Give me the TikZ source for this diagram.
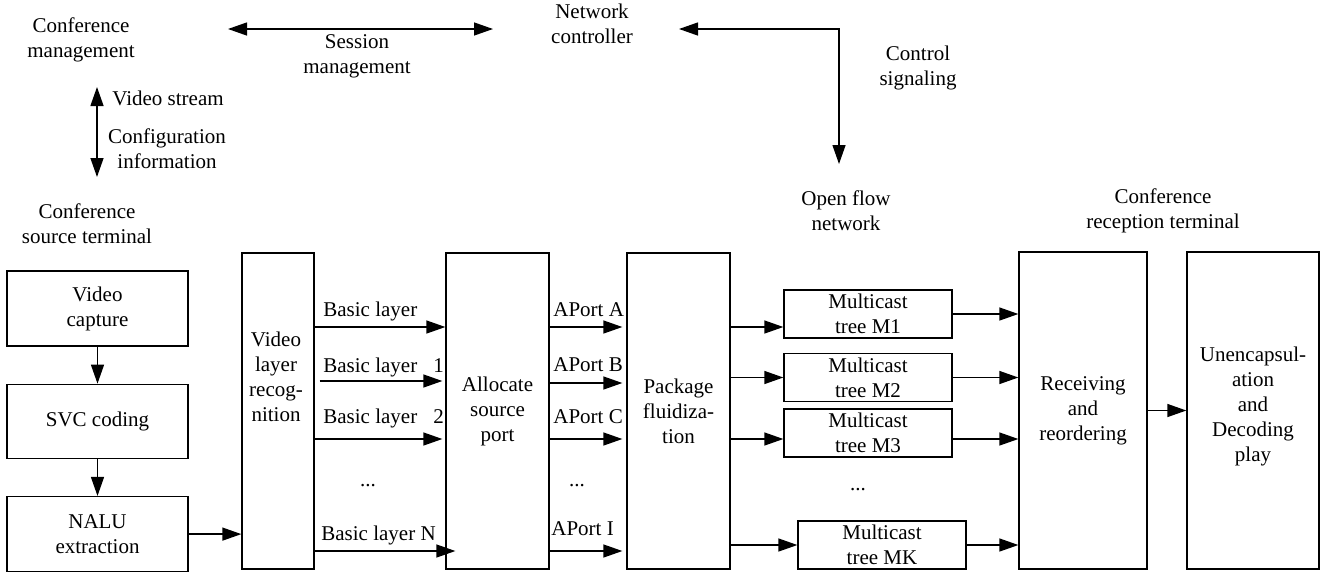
\documentclass[tikz,border=0pt]{standalone}
\usepackage{fontspec}
\setmainfont{Liberation Serif}
\usetikzlibrary{arrows.meta,positioning}

\begin{document}
\begin{tikzpicture}[x=0.5pt,y=-0.5pt,
  font=\fontsize{10.5}{12.5}\selectfont,
  box/.style = {draw, line width=0.65pt, inner sep=0pt, align=center},
  txt/.style = {inner sep=0pt, align=center},
  arr/.style = {line width=0.65pt, -{Triangle[length=9.5pt,width=6.5pt]}},
  biarr/.style = {line width=0.65pt, {Triangle[length=9.5pt,width=6.5pt]}-{Triangle[length=9.5pt,width=6.5pt]}}]
\useasboundingbox (0,0) rectangle (1327,574);

% labels on top
\node[txt] (cm) at (81,40) {Conference\\management};
\node[txt] (sm) at (357,56) {Session\\management};
\node[txt] (nc) at (592,24) {Network\\controller};
\node[txt] (cs) at (918,68) {Control\\signaling};
\node[txt] (ofn) at (846,211) {Open flow\\network};
\node[txt] (cst) at (87,224) {Conference\\source terminal};
\node[txt] (crt) at (1163,211) {Conference\\reception terminal};
\node[txt, anchor=base west] (vs) at (112,105) {Video stream};
\node[txt] (ci) at (167,149) {Configuration\\information};

\coordinate (s1) at (228,29);
\coordinate (s2) at (493,29);
\coordinate (c1) at (679,29);
\coordinate (c2) at (839,164);
\coordinate (v1) at (97,87);
\coordinate (v2) at (97,177);
\draw[biarr] (s1) -- (s2);
\draw[biarr] (c1) -| (c2);
\draw[biarr] (v1) -- (v2);

% source terminal
\node[box, minimum width=90.5pt, minimum height=37.5pt] (vc) at (97.5,308.5) {Video\\capture};
\node[box, minimum width=90.5pt, minimum height=37pt, below=18.5pt of vc] (svc) {SVC coding};
\node[box, minimum width=90.5pt, minimum height=37.5pt, below=18.5pt of svc] (nalu) {NALU\\extraction};
\draw[arr] (vc) -- (svc);
\draw[arr] (svc) -- (nalu);

% big blocks
\node[box, minimum width=36pt, minimum height=158pt] (vlr) at (278,411) {};
\node[txt] (vlrt) at (276,377) {Video\\layer\\recog-\\nition};
\node[box, minimum width=51.5pt, minimum height=158pt] (asp) at (497.5,411) {Allocate\\source\\port};
\node[box, minimum width=51.5pt, minimum height=158pt] (pf) at (678.5,411) {Package\\fluidiza-\\tion};
\node[box, minimum width=64pt, minimum height=158.5pt] (rr) at (1083,410.5) {Receiving\\and\\reordering};
\node[box, minimum width=66pt, minimum height=158.5pt] (ud) at (1253,410.5) {};
\node[txt] (udt) at (1253,406) {Unencapsul-\\ation\\and\\Decoding\\play};

% multicast trees
\node[box, minimum width=84pt, minimum height=24pt] (m1) at (868,314) {Multicast\\tree M1};
\node[box, minimum width=84pt, minimum height=24pt] (m2) at (868,377.5) {Multicast\\tree M2};
\node[box, minimum width=84pt, minimum height=24pt] (m3) at (868,433) {Multicast\\tree M3};
\node[box, minimum width=84pt, minimum height=24pt] (mk) at (882,545) {Multicast\\tree MK};

\coordinate (r1) at (0,327);
\coordinate (r2) at (0,381);
\coordinate (r3) at (0,439);
\coordinate (rn) at (0,551);
\coordinate (p2) at (0,383);

\draw[arr] (nalu) -- (vlr.west |- nalu);

% layers
\draw[arr] (vlr.east |- r1) -- (asp.west |- r1);
\draw[arr] ([xshift=2.5pt]vlr.east |- r2) -- ([xshift=-1.5pt]asp.west |- r2);
\draw[arr] (vlr.east |- r3) -- ([xshift=-1.5pt]asp.west |- r3);
\draw[arr] (vlr.east |- rn) -- ([xshift=5pt]asp.west |- rn);
\node[txt, anchor=base west] (bl1) at (323,316) {Basic layer};
\node[txt, anchor=base west] (bl2) at (323,372) {Basic layer\hspace{8pt}1};
\node[txt, anchor=base west] (bl3) at (323,423) {Basic layer\hspace{8pt}2};
\node[txt, anchor=base west] (bln) at (321,540) {Basic layer N};
\node[txt] (dots1) at (368,486) {...};

% ports
\draw[arr] (asp.east |- r1) -- ([xshift=-2pt]pf.west |- r1);
\draw[arr] (asp.east |- p2) -- ([xshift=-2pt]pf.west |- p2);
\draw[arr] (asp.east |- r3) -- ([xshift=-2pt]pf.west |- r3);
\draw[arr] (asp.east |- rn) -- ([xshift=-2pt]pf.west |- rn);
\node[txt, anchor=base west] (pa) at (553,316) {APort A};
\node[txt, anchor=base west] (pb) at (553,371) {APort B};
\node[txt, anchor=base west] (pc) at (553,423) {APort C};
\node[txt, anchor=base west] (pi) at (551,535) {APort I};
\node[txt] (dots2) at (577,486) {...};

% to the trees
\draw[arr] (pf.east |- r1) -- (m1.west |- r1);
\draw[arr] (pf.east |- m2) -- (m2);
\draw[arr] (pf.east |- r3) -- (m3.west |- r3);
\draw[arr] (pf.east |- mk) -- (mk);
\node[txt] (dots3) at (858,490) {...};

% to the receiver
\draw[arr] (m1) -- (rr.west |- m1);
\draw[arr] (m2) -- (rr.west |- m2);
\draw[arr] (m3.east |- r3) -- (rr.west |- r3);
\draw[arr] (mk) -- (rr.west |- mk);
\draw[arr] (rr) -- (ud);
\end{tikzpicture}
\end{document}
